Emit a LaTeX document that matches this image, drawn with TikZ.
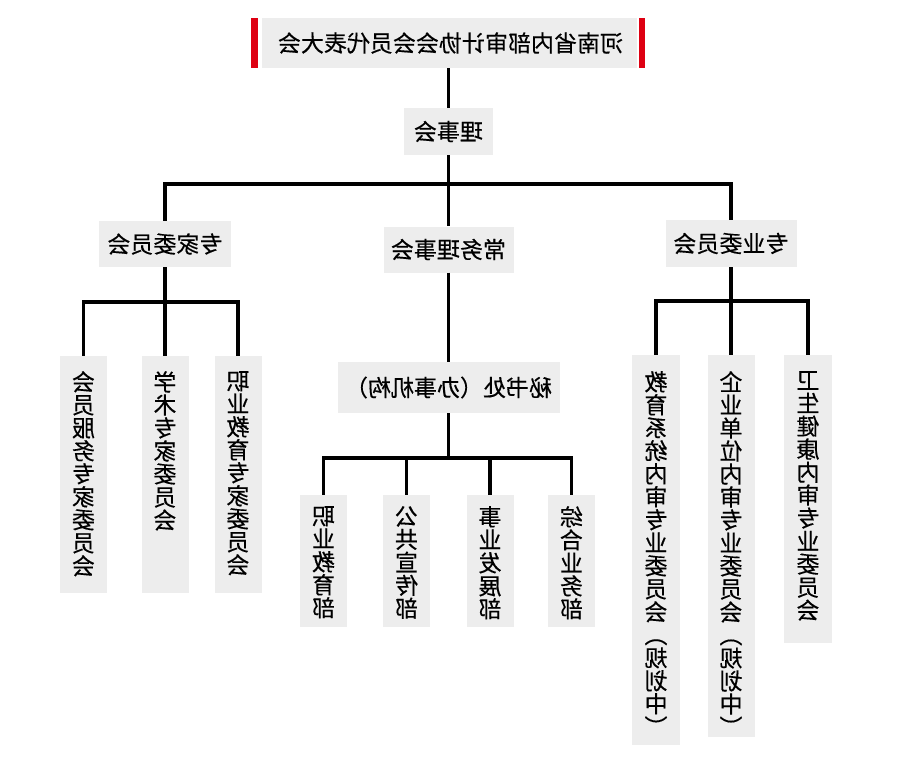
\documentclass[tikz,border=0pt]{standalone}
\usepackage{fontspec}
\newfontfamily\cjk[FakeBold=0.35]{Noto Sans CJK SC}
\definecolor{boxgray}{RGB}{237,237,237}
\definecolor{tred}{RGB}{222,0,18}
\begin{document}
\begin{tikzpicture}[x=1pt,y=1pt,
  gbox/.style={fill=boxgray, draw=none, inner sep=0pt, anchor=center},
  rbar/.style={fill=tred, draw=none, inner sep=0pt, minimum width=6.5pt, minimum height=50pt},
  lbl/.style={font=\cjk\fontsize{23}{23}\selectfont, transform shape, xscale=-1, inner sep=0pt, align=center, text=black},
  conn/.style={line width=3.4pt, draw=black}]
\useasboundingbox (0,0) rectangle (902,-756);

% top
\node[rbar] (rl) at (254.5,-43) {};
\node[rbar] (rr) at (642,-43) {};
\node[gbox, minimum width=375pt, minimum height=50pt] (top) at (449.5,-43) {};
\node[lbl] (ttop) at (450.5,-43) {河南省内部审计协会会员代表大会};

% council
\node[gbox, minimum width=89pt, minimum height=47pt] (lishi) at (448.5,-131.5) {};
\node[lbl] (tlishi) at (lishi) {理事会};

% second level
\node[gbox, minimum width=132pt, minimum height=46pt] (zj) at (165,-244) {};
\node[lbl] (tzj) at (zj) {专家委员会};
\node[gbox, minimum width=130pt, minimum height=46pt] (cw) at (448.5,-249.5) {};
\node[lbl] (tcw) at (cw) {常务理事会};
\node[gbox, minimum width=131pt, minimum height=47pt] (zy) at (731,-243.5) {};
\node[lbl] (tzy) at (zy) {专业委员会};

% secretariat
\node[gbox, minimum width=222pt, minimum height=51pt] (ms) at (448.5,-387.5) {};
\node[lbl] (tms) at (ms) {秘书处（办事机构）};

% left leaves
\node[gbox, minimum width=47pt, minimum height=237pt] (L1) at (83.5,-474.5) {};
\node[gbox, minimum width=47pt, minimum height=237pt] (L2) at (165,-474.5) {};
\node[gbox, minimum width=47pt, minimum height=237pt] (L3) at (238,-474.5) {};
\node[lbl, anchor=north] (tL1) at (83.5,-371) {会\\员\\服\\务\\专\\家\\委\\员\\会};
\node[lbl, anchor=north] (tL2) at (165,-371) {学\\术\\专\\家\\委\\员\\会};
\node[lbl, anchor=north] (tL3) at (238,-371) {职\\业\\教\\育\\专\\家\\委\\员\\会};

% middle leaves
\node[gbox, minimum width=47pt, minimum height=132pt] (M1) at (323.5,-561) {};
\node[gbox, minimum width=47pt, minimum height=132pt] (M2) at (406.5,-561) {};
\node[gbox, minimum width=47pt, minimum height=132pt] (M3) at (490,-561) {};
\node[gbox, minimum width=47pt, minimum height=132pt] (M4) at (571.5,-561) {};
\node[lbl, anchor=north] (tM1) at (323.5,-506) {职\\业\\教\\育\\部};
\node[lbl, anchor=north] (tM2) at (406.5,-506) {公\\共\\宣\\传\\部};
\node[lbl, anchor=north] (tM3) at (490,-506) {事\\业\\发\\展\\部};
\node[lbl, anchor=north] (tM4) at (571.5,-506) {综\\合\\业\\务\\部};

% right leaves
\node[gbox, minimum width=48pt, minimum height=390pt] (R1) at (656,-550) {};
\node[gbox, minimum width=47pt, minimum height=382pt] (R2) at (731,-546) {};
\node[gbox, minimum width=48pt, minimum height=288pt] (R3) at (808,-499) {};
\node[lbl, anchor=north] (tR1) at (656,-371) {教\\育\\系\\统\\内\\审\\专\\业\\委\\员\\会\\︵\\规\\划\\中\\︶};
\node[lbl, anchor=north] (tR2) at (731,-371) {企\\业\\单\\位\\内\\审\\专\\业\\委\\员\\会\\︵\\规\\划\\中\\︶};
\node[lbl, anchor=north] (tR3) at (808,-371) {卫\\生\\健\\康\\内\\审\\专\\业\\委\\员\\会};

% bus coordinates
\coordinate (b1) at (448.5,-184);
\coordinate (b2) at (165,-302);
\coordinate (b3) at (448.5,-458);
\coordinate (b4) at (731,-301);

% connectors
\draw[conn] (lishi.north |- top.south) -- (lishi.north);
\draw[conn] (lishi.south) -- (cw.north);
\draw[conn] (zj.north) |- (b1) -| (zy.north);

\draw[conn] (zj.south) -- (L2.north);
\draw[conn] (L1.north) |- (b2) -| (L3.north);

\draw[conn] (cw.south) -- (ms.north);
\draw[conn] (ms.south) -- (b3);
\draw[conn] (M1.north) |- (b3) -| (M4.north);
\draw[conn] (M2.north) -- (M2.north |- b3);
\draw[conn] (M3.north) -- (M3.north |- b3);

\draw[conn] (zy.south) -- (R2.north);
\draw[conn] (R1.north) |- (b4) -| (R3.north);
\end{tikzpicture}
\end{document}
